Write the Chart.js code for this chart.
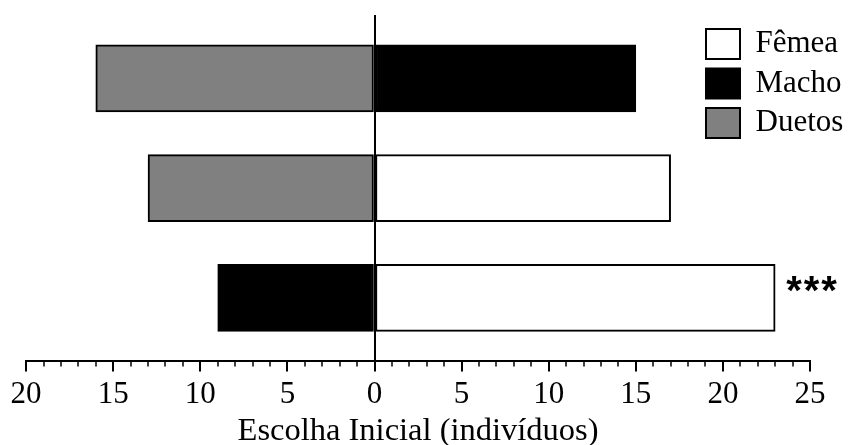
<!DOCTYPE html>
<html>
<head>
<meta charset="utf-8">
<script src="https://cdn.jsdelivr.net/npm/chart.js@4/dist/chart.umd.min.js"></script>
<style>
  html, body { margin: 0; padding: 0; background: #ffffff; }
  #wrap { width: 849px; height: 445px; }
</style>
</head>
<body>
<div id="wrap"><canvas id="c" width="849" height="445"></canvas></div>
<script>
// Rows from top to bottom: each row is one pairing of choices
const rows = [0, 1, 2];
// Number of individuals choosing each option first (left side drawn as negative)
const femea  = [null, 17, 23];
const macho  = [15, null, -9];
const duetos = [-16, -13, null];
// Significance marks per row
const significance = ['', '', '***'];

const seriesLabels = ['Fêmea', 'Macho', 'Duetos'];
const xTicksMin = -20;
const xTicksMax = 25;

function toPoints(values) {
  return rows
    .map((r, i) => ({ y: r, x: values[i] }))
    .filter(p => p.x !== null);
}

const serif = "'Liberation Serif', 'Times New Roman', serif";

// Minor tick marks (every unit) on the value axis
const minorTicks = {
  id: 'minorTicks',
  afterDraw(chart) {
    const xs = chart.scales.x;
    const ctx = chart.ctx;
    ctx.save();
    ctx.strokeStyle = '#000';
    ctx.lineWidth = 1.5;
    for (let v = xTicksMin; v <= xTicksMax; v++) {
      if (v % 5 === 0) continue;
      const px = Math.round(xs.getPixelForValue(v));
      ctx.beginPath();
      ctx.moveTo(px, xs.top);
      ctx.lineTo(px, xs.top + 5);
      ctx.stroke();
    }
    ctx.restore();
  }
};

// Significance text placed after the end of the right-hand bar of each row
const sigMarks = {
  id: 'sigMarks',
  afterDatasetsDraw(chart) {
    const ctx = chart.ctx;
    ctx.save();
    ctx.fillStyle = '#000';
    ctx.font = "bold 40px 'Liberation Sans', Arial, sans-serif";
    ctx.letterSpacing = '2px';
    ctx.textAlign = 'left';
    ctx.textBaseline = 'alphabetic';
    chart.data.datasets.forEach((ds, di) => {
      const meta = chart.getDatasetMeta(di);
      meta.data.forEach((el, k) => {
        const p = ds.data[k];
        const mark = significance[p.y];
        if (!mark || p.x <= 0) return;
        ctx.fillText(mark, el.x + 11, el.y + 6);
      });
    });
    ctx.restore();
  }
};

// Place the legend box in the upper right corner
const legendPlacer = {
  id: 'legendPlacer',
  afterLayout(chart) {
    const lg = chart.legend;
    if (!lg) return;
    lg.left = 697.5;
    lg.top = 20;
    lg.right = chart.width;
    lg.bottom = 200;
    lg.width = lg.right - lg.left;
    lg.height = lg.bottom - lg.top;
  }
};

new Chart(document.getElementById('c'), {
  type: 'bar',
  data: {
    datasets: [
      { label: seriesLabels[0], data: toPoints(femea),  backgroundColor: '#ffffff' },
      { label: seriesLabels[1], data: toPoints(macho),  backgroundColor: '#000000' },
      { label: seriesLabels[2], data: toPoints(duetos), backgroundColor: '#808080' }
    ]
  },
  options: {
    indexAxis: 'y',
    responsive: false,
    animation: false,
    devicePixelRatio: 1,
    layout: { padding: { left: 25, right: 39, top: 15, bottom: 0 } },
    datasets: {
      bar: {
        borderColor: '#000000',
        borderWidth: 2,
        borderSkipped: false,
        barThickness: 67
      }
    },
    scales: {
      y: {
        type: 'linear',
        display: false,
        reverse: true,
        stacked: true,
        offset: false,
        grid: { offset: false },
        min: -0.578,
        max: 2.578
      },
      x: {
        type: 'linear',
        stacked: true,
        min: xTicksMin,
        max: xTicksMax,
        border: { display: true, color: '#000', width: 2 },
        grid: {
          drawOnChartArea: true,
          color: (c) => (c.tick && c.tick.value === 0 ? '#000' : 'rgba(0,0,0,0)'),
          lineWidth: 2,
          tickColor: '#000',
          tickWidth: 2,
          tickLength: 10
        },
        ticks: {
          stepSize: 5,
          padding: 10.6,
          color: '#000',
          maxRotation: 0,
          font: { family: serif, size: 31, lineHeight: 0.8 },
          callback: (v) => String(Math.abs(v))
        },
        title: {
          display: true,
          text: 'Escolha Inicial (indivíduos)',
          color: '#000',
          padding: { top: 0, bottom: 0 },
          font: { family: serif, size: 32.5, lineHeight: 0.85 }
        }
      }
    },
    plugins: {
      tooltip: { enabled: false },
      legend: {
        position: 'chartArea',
        align: 'start',
        labels: {
          color: '#000',
          boxWidth: 34,
          boxHeight: 30,
          padding: 8.5,
          font: { family: serif, size: 31 }
        }
      }
    }
  },
  plugins: [minorTicks, sigMarks, legendPlacer]
});
</script>
</body>
</html>
